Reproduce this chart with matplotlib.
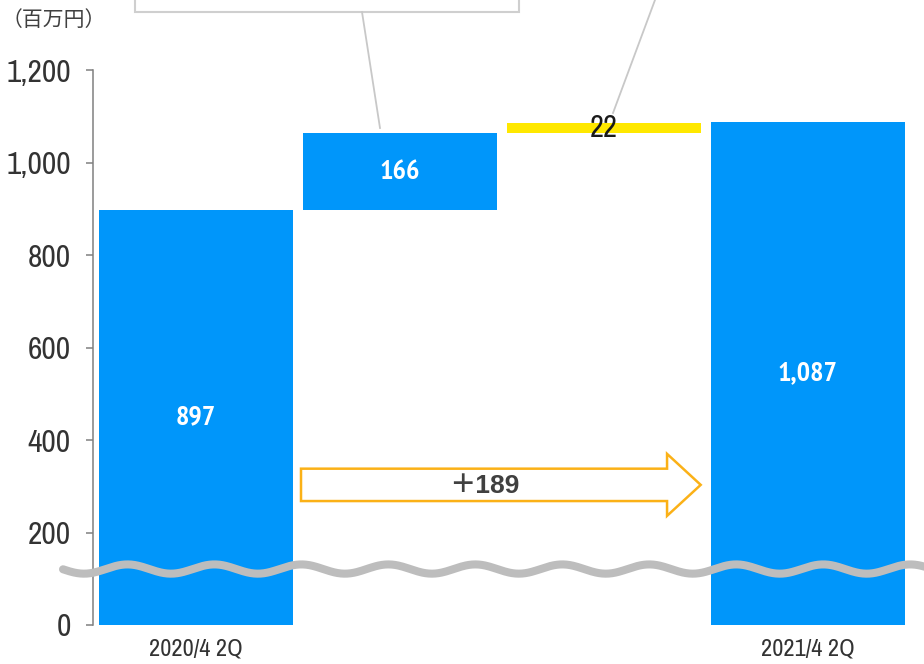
import os
import numpy as np
import matplotlib
matplotlib.use("Agg")
import matplotlib.pyplot as plt
from matplotlib import font_manager
from matplotlib.font_manager import FontProperties
from matplotlib.textpath import TextPath
from matplotlib.patches import Polygon, Rectangle
from matplotlib.lines import Line2D

# waterfall data (百万円)
categories = ["2020/4 2Q", "", "", "2021/4 2Q"]
values = [897, 166, 22, 1087]
bottoms = [0, 897, 897 + 166, 0]
bar_labels = ["897", "166", "22", "1,087"]
bar_colors = ["#0096fa", "#0096fa", "#ffe800", "#0096fa"]
label_colors = ["white", "white", "#1a1a1a", "white"]
label_bold = [True, True, False, True]
yticks = [0, 200, 400, 600, 800, 1000, 1200]
total_change = "＋189"


# the reference uses an Arial Narrow look: pick the narrowest sans face around
def find_narrow(bold):
    skip = ["Mono", "Serif", "Light", "Thin", "Medium", "Black", "Italic", "Oblique",
            "Semi", "ExtraBold", "Extra Bold"]
    rank = {"Narrow": 0, "ExtraCondensed": 1, "Condensed": 2}
    found, best = None, 99
    for f in font_manager.fontManager.ttflist:
        base = os.path.basename(f.fname)
        stem = base.replace("ExtraCondensed", "").replace("Condensed", "")
        if any(s in stem for s in skip):
            continue
        if bold != ("Bold" in stem):
            continue
        for key, r in rank.items():
            if (key in base or key in f.name) and r < best:
                found, best = f.fname, r
                break
    return found


reg_file = find_narrow(False)
bold_file = find_narrow(True) or reg_file


def num_font(size, bold=False):
    fn = bold_file if bold else reg_file
    if fn:
        return FontProperties(fname=fn, size=size)
    return FontProperties(family="Liberation Sans", size=size,
                          weight="bold" if bold else "normal")


def fit_size(text, width_px, max_size, bold=False):
    # font size that gives the text the width it has in the reference
    w = TextPath((0, 0), text, prop=num_font(10, bold)).get_extents().width
    return min(max_size, 10 * (width_px * 0.72) / w)


tick_size = fit_size("1,200", 62, 23)
cat_size = fit_size("2020/4 2Q", 100, 17.5)
lab_size = fit_size("1,087", 57, 22, bold=True)
small_size = fit_size("22", 26, 22)

cjk = "Noto Sans CJK JP"

fig = plt.figure(figsize=(9.24, 6.64), dpi=100)
ax = fig.add_axes([93 / 924, 39 / 664, 831 / 924, 555 / 664])

x = np.arange(len(values))
bars = ax.bar(x, values, bottom=bottoms, width=0.95, color=bar_colors, zorder=2)

for i, b in enumerate(bars):
    cy = bottoms[i] + values[i] / 2
    size = lab_size if label_bold[i] else small_size
    ax.text(b.get_x() + b.get_width() / 2, cy, bar_labels[i], ha="center", va="center",
            color=label_colors[i], fontproperties=num_font(size, label_bold[i]), zorder=4)

ax.set_xlim(-0.505, 3.57)
ax.set_ylim(0, 1200)
ax.set_yticks(yticks)
ax.set_yticklabels([f"{v:,}" for v in yticks], color="#333333")
for t in ax.get_yticklabels():
    t.set_fontproperties(num_font(tick_size))
ax.set_xticks(x)
ax.set_xticklabels(categories, color="#333333")
for t in ax.get_xticklabels():
    t.set_fontproperties(num_font(cat_size))
ax.tick_params(axis="x", length=0, pad=10)
ax.tick_params(axis="y", length=5, width=1.1, color="#808080", pad=11)
for s in ["top", "right", "bottom"]:
    ax.spines[s].set_visible(False)
ax.spines["left"].set_color("#808080")
ax.spines["left"].set_linewidth(1.1)

# change arrow between first and last bar
x0 = x[0] + 0.5 + 0.015
x1 = x[3] - 0.5 - 0.025
xh = x1 - 0.165
mid = 303
poly = [(x0, mid - 35), (xh, mid - 35), (xh, mid - 67), (x1, mid), (xh, mid + 67),
        (xh, mid + 35), (x0, mid + 35)]
ax.add_patch(Polygon(poly, closed=True, facecolor="white", edgecolor="#fbb117",
                     linewidth=1.8, zorder=3))
ax.text((x0 + xh) / 2, mid - 3, total_change, ha="center", va="center", fontsize=19,
        fontweight="bold", color="#404040", family=["Liberation Sans", cjk], zorder=4)

# axis break wave
wx = np.linspace(-0.652, 3.6, 800)
px = 196 + wx * 204
wy = 121 - 10 * np.cos((px - 84) * 2 * np.pi / 87)
ax.plot(wx, wy, color="#bdbdbd", lw=5.8, solid_capstyle="round", clip_on=False, zorder=5)

# callout boxes (cut off at top)
fig.add_artist(Rectangle((135 / 924, 1 - 12 / 664), (519 - 135) / 924, 0.2,
                         transform=fig.transFigure, facecolor="white",
                         edgecolor="#cfcfcf", linewidth=1.5, clip_on=False))
fig.add_artist(Line2D([362 / 924, 380 / 924], [1 - 12 / 664, 1 - 128 / 664],
                      transform=fig.transFigure, color="#c8c8c8", lw=1.3))
fig.add_artist(Line2D([655 / 924, 613 / 924], [1.0, 1 - 113 / 664],
                      transform=fig.transFigure, color="#c8c8c8", lw=1.3))

fig.text(2 / 924, 1 - 20 / 664, "（百万円）", family=[cjk], fontsize=15,
         color="#404040", va="center", ha="left")

fig.savefig("out.png", dpi=100)
